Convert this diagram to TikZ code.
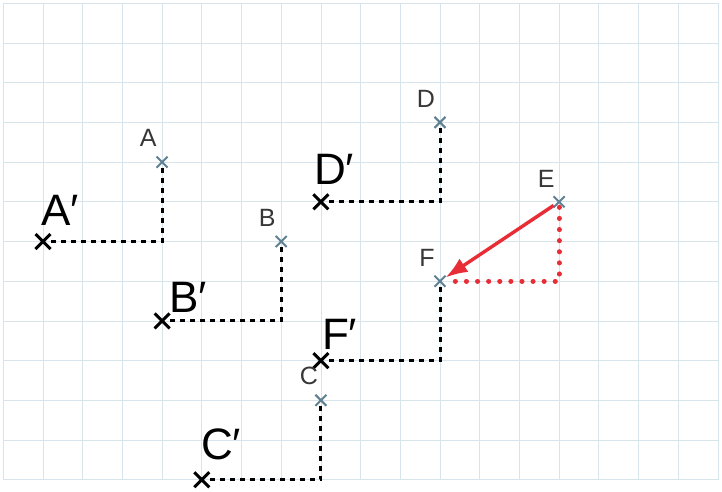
\documentclass[tikz,border=0pt]{standalone}
\usepackage{fontspec}
\setmainfont{Liberation Sans}
\usetikzlibrary{arrows.meta,shapes.misc}
\definecolor{gridc}{RGB}{215,228,236}
\definecolor{ptc}{RGB}{95,128,145}
\definecolor{lblc}{RGB}{55,55,55}
\definecolor{redc}{RGB}{232,45,55}
\begin{document}
\begin{tikzpicture}[x=1pt,y=-1pt,
  gridline/.style={draw=gridc, line width=0.7pt},
  origpt/.style={cross out, draw=ptc, line width=2pt, minimum size=11pt, inner sep=0pt, outer sep=0pt},
  imgpt/.style={cross out, draw=black, line width=3pt, minimum size=15pt, inner sep=0pt, outer sep=0pt},
  origlbl/.style={text=lblc, font=\fontsize{25}{25}\selectfont, inner sep=0pt},
  imglbl/.style={text=black, font=\fontsize{44}{44}\selectfont, inner sep=0pt, anchor=base west},
  trace/.style={draw=black, line width=3pt, dash pattern=on 5pt off 5pt},
  redtrace/.style={draw=redc, line width=5pt, line cap=round, dash pattern=on 0.1pt off 11pt},
  redarrow/.style={draw=redc, line width=3.4pt, -{Latex[length=22pt,width=16pt]}}]
\useasboundingbox (0,0) rectangle (722,491);
\fill[white] (0,0) rectangle (722,491);
\foreach \i in {0,...,18} \draw[gridline] ({3.3+39.7*\i},3.3) -- ({3.3+39.7*\i},479.7);
\foreach \j in {0,...,12} \draw[gridline] (3.3,{3.3+39.7*\j}) -- (717.9,{3.3+39.7*\j});
\begin{scope}[shift={(3.3,3.3)}, x=39.7pt, y=-39.7pt]
  % original points
  \node[origpt] (A) at (4,4) {};
  \node[origpt] (B) at (7,6) {};
  \node[origpt] (C) at (8,10) {};
  \node[origpt] (D) at (11,3) {};
  \node[origpt] (E) at (14,5) {};
  \node[origpt] (F) at (11,7) {};
  % image points
  \node[imgpt] (A') at (1,6) {};
  \node[imgpt] (B') at (4,8) {};
  \node[imgpt] (C') at (5,12) {};
  \node[imgpt] (D') at (8,5) {};
  \node[imgpt] (F') at (8,9) {};
  % traces
  \draw[trace] (A) |- (A');
  \draw[trace] (B) |- (B');
  \draw[trace] (C) |- (C');
  \draw[trace] (D) |- (D');
  \draw[trace] (F) |- (F');
  \draw[redtrace] (E) |- (F);
  \draw[redarrow] (E) -- (F);
  % labels
  \node[origlbl] (Al) at ([xshift=-14pt,yshift=24pt]A) {A};
  \node[origlbl] (Bl) at ([xshift=-14pt,yshift=24pt]B) {B};
  \node[origlbl] (Cl) at ([xshift=-12pt,yshift=24pt]C) {C};
  \node[origlbl] (Dl) at ([xshift=-14pt,yshift=24pt]D) {D};
  \node[origlbl] (El) at ([xshift=-13pt,yshift=23pt]E) {E};
  \node[origlbl] (Fl) at ([xshift=-13pt,yshift=23pt]F) {F};
  \node[imglbl] (A'l) at ([xshift=-2pt,yshift=16pt]A') {A′};
  \node[imglbl] (B'l) at ([xshift=7pt,yshift=8pt]B') {B′};
  \node[imglbl] (C'l) at ([xshift=-1pt,yshift=20pt]C') {C′};
  \node[imglbl] (D'l) at ([xshift=-7pt,yshift=17pt]D') {D′};
  \node[imglbl] (F'l) at ([xshift=1pt,yshift=11pt]F') {F′};
\end{scope}
\end{tikzpicture}
\end{document}
